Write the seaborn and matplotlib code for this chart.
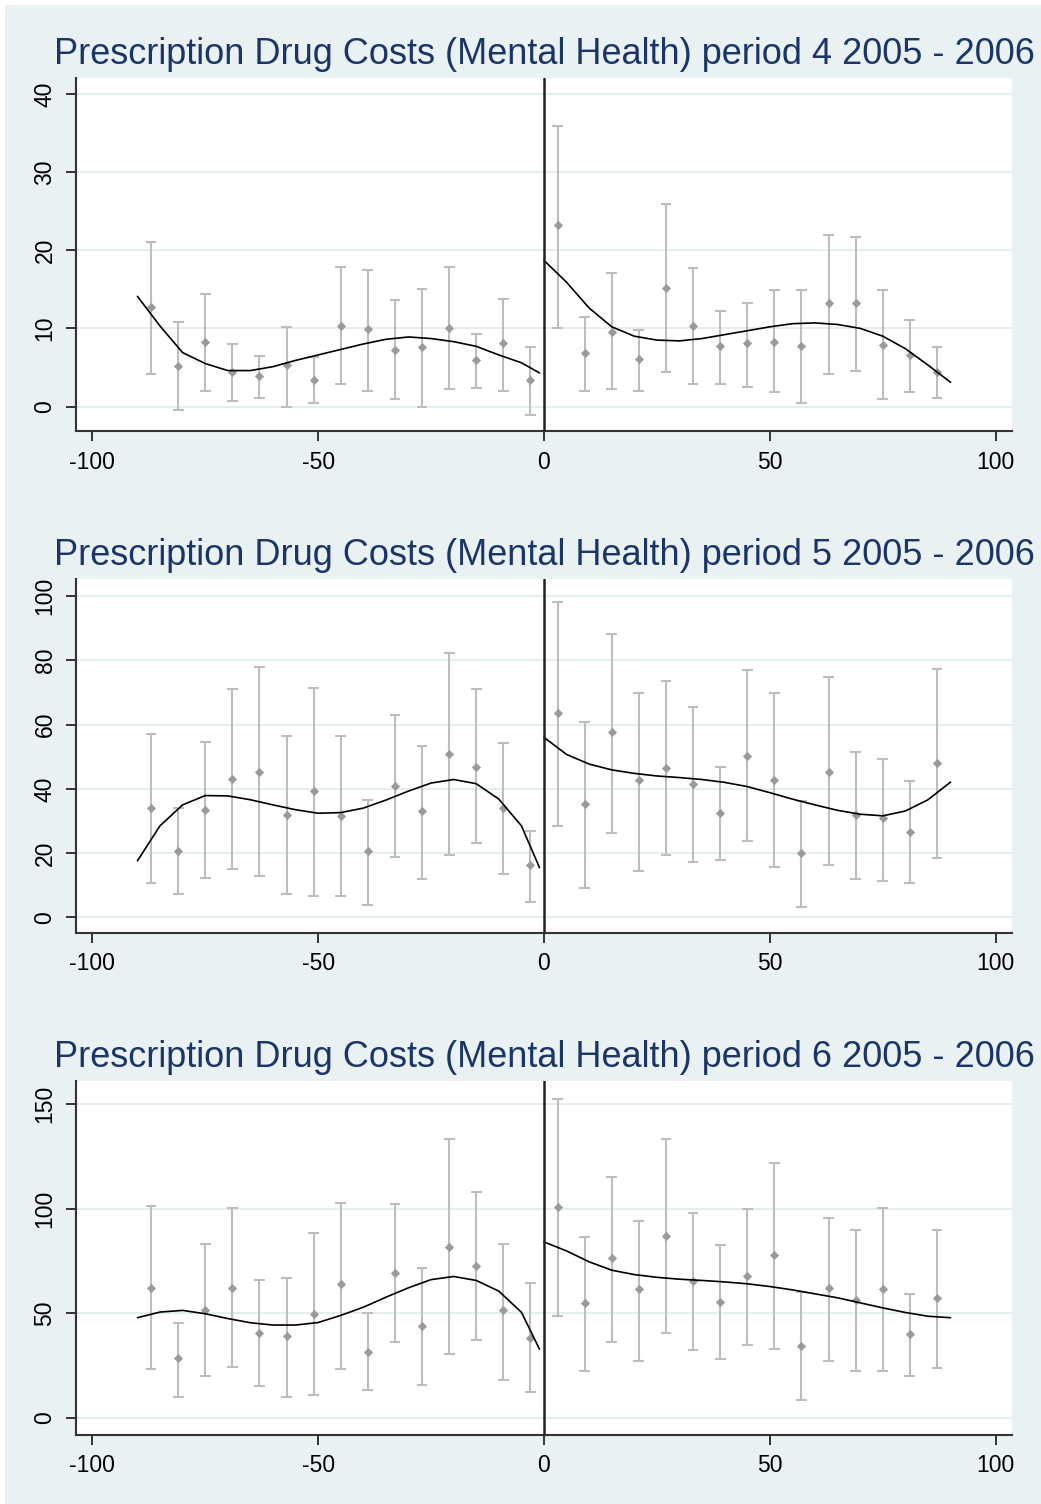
import numpy as np
import pandas as pd
import matplotlib
matplotlib.use("Agg")
import matplotlib.pyplot as plt
import seaborn as sns
from matplotlib.patches import Rectangle

# ---------------- data ----------------
bins = [-87, -81, -75, -69, -63, -57, -51, -45, -39, -33, -27, -21, -15, -9, -3,
        3, 9, 15, 21, 27, 33, 39, 45, 51, 57, 63, 69, 75, 81, 87]
curve_x_left = [-90, -85, -80, -75, -70, -65, -60, -55, -50, -45, -40, -35, -30,
                -25, -20, -15, -10, -5, -1]
curve_x_right = [0, 5, 10, 15, 20, 25, 30, 35, 40, 45, 50, 55, 60, 65, 70, 75,
                 80, 85, 90]

titles = ["Prescription Drug Costs (Mental Health) period 4 2005 - 2006",
          "Prescription Drug Costs (Mental Health) period 5 2005 - 2006",
          "Prescription Drug Costs (Mental Health) period 6 2005 - 2006"]

p4_mean = [12.7, 5.2, 8.3, 4.4, 3.9, 5.3, 3.4, 10.3, 9.9, 7.2, 7.6, 10.1, 5.9, 8.1, 3.4,
           23.2, 6.9, 9.6, 6.1, 15.2, 10.3, 7.7, 8.1, 8.3, 7.7, 13.2, 13.2, 7.9, 6.6, 4.4]
p4_lo = [4.1, -0.4, 2.0, 0.7, 1.1, 0.0, 0.5, 2.9, 2.0, 0.9, 0.0, 2.2, 2.4, 2.0, -1.1,
         10.0, 2.0, 2.2, 2.0, 4.4, 2.9, 2.9, 2.5, 1.8, 0.5, 4.2, 4.5, 0.9, 1.8, 1.1]
p4_hi = [21.1, 10.8, 14.4, 8.0, 6.5, 10.2, 6.3, 17.8, 17.5, 13.6, 15.1, 17.8, 9.3, 13.8, 7.6,
         35.9, 11.5, 17.1, 9.8, 25.9, 17.7, 12.2, 13.3, 14.9, 14.9, 22.0, 21.7, 14.9, 11.1, 7.6]
p4_fit_left = [14.1, 10.3, 6.9, 5.5, 4.6, 4.6, 5.1, 5.9, 6.6, 7.3, 8.0, 8.6, 8.9,
               8.7, 8.3, 7.7, 6.6, 5.6, 4.3]
p4_fit_right = [18.7, 15.9, 12.6, 10.2, 9.0, 8.5, 8.4, 8.7, 9.2, 9.7, 10.2, 10.6, 10.7,
                10.5, 10.0, 9.0, 7.4, 5.3, 3.1]

p5_mean = [34.1, 20.6, 33.5, 43.2, 45.3, 32.0, 39.4, 31.4, 20.6, 41.0, 33.0, 50.7, 46.9, 34.1, 16.4,
           63.6, 35.2, 57.7, 42.7, 46.5, 41.6, 32.5, 50.2, 42.7, 20.1, 45.3, 32.0, 30.9, 26.6, 48.0]
p5_lo = [10.8, 7.2, 12.4, 15.1, 13.0, 7.2, 6.5, 6.5, 3.8, 18.9, 11.8, 19.4, 23.1, 13.5, 4.9,
         28.5, 9.2, 26.3, 14.5, 19.4, 17.2, 17.8, 23.7, 15.7, 3.2, 16.2, 11.8, 11.3, 10.8, 18.4]
p5_hi = [57.0, 34.1, 54.7, 71.1, 77.9, 56.4, 71.5, 56.5, 36.5, 62.9, 53.2, 82.3, 71.1, 54.3, 26.9,
         98.2, 60.7, 88.1, 69.8, 73.7, 65.6, 46.7, 76.9, 69.8, 36.2, 74.7, 51.6, 49.4, 42.4, 77.3]
p5_fit_left = [17.6, 28.5, 35.0, 37.9, 37.8, 36.6, 35.0, 33.5, 32.4, 32.6, 34.0, 36.5, 39.3,
               41.8, 42.9, 41.6, 36.8, 28.5, 15.5]
p5_fit_right = [56.0, 50.7, 47.7, 45.9, 44.8, 44.0, 43.5, 42.9, 42.0, 40.7, 38.8, 36.8, 35.0,
                33.3, 32.1, 31.6, 33.1, 36.6, 42.1]

p6_mean = [62.2, 28.5, 51.4, 62.2, 40.7, 39.1, 49.8, 63.8, 31.6, 69.5, 43.9, 81.9, 72.8, 51.4, 38.3,
           100.8, 54.7, 76.3, 61.4, 86.8, 65.5, 55.5, 67.9, 77.9, 34.2, 62.2, 56.4, 61.4, 39.9, 57.2]
p6_lo = [23.2, 10.0, 19.9, 24.2, 15.1, 10.0, 10.8, 23.2, 13.4, 36.4, 15.9, 30.7, 37.4, 18.3, 12.4,
         48.8, 22.3, 36.4, 27.3, 40.4, 32.3, 28.1, 34.7, 33.1, 8.4, 27.3, 22.4, 22.4, 19.9, 24.0]
p6_hi = [101.3, 45.3, 83.1, 100.5, 66.0, 66.8, 88.2, 102.9, 50.2, 102.1, 71.7, 133.4, 108.0, 83.1, 64.4,
         152.3, 86.6, 115.3, 94.0, 133.2, 97.9, 82.5, 99.7, 121.9, 60.4, 95.7, 89.8, 100.5, 59.3, 89.8]
p6_fit_left = [47.9, 50.6, 51.4, 49.8, 47.5, 45.5, 44.4, 44.4, 45.6, 49.0, 52.9, 57.7, 62.2,
               66.1, 67.6, 65.7, 60.6, 50.5, 32.9]
p6_fit_right = [84.1, 79.8, 74.6, 70.6, 68.5, 67.2, 66.3, 65.7, 65.0, 64.1, 62.8, 61.2, 59.3,
                57.4, 55.0, 52.6, 50.4, 48.6, 47.9]

x_ticks = [-100, -50, 0, 50, 100]
y_ticks = [[0, 10, 20, 30, 40], [0, 20, 40, 60, 80, 100], [0, 50, 100, 150]]

# ---------------- style ----------------
sns.set_theme(style="white")
plt.rcParams['font.family'] = ['Liberation Sans', 'DejaVu Sans']

BG = "#e9f1f3"
GRID = "#e2ecef"
TITLE_C = "#1b3566"
BAR_C = "#bdbdbd"
PT_C = "#9a9a9a"

W, H = 1041, 1504
fig = plt.figure(figsize=(W / 100, H / 100), dpi=100, facecolor="white")
fig.patches.append(Rectangle((5 / W, 0), 1 - 5 / W, 1 - 5 / H, transform=fig.transFigure,
                             facecolor=BG, edgecolor="none", zorder=-10))

panels = [
    (p4_mean, p4_lo, p4_hi, p4_fit_left, p4_fit_right, (-3.2, 42.05), 78.0, 64.0),
    (p5_mean, p5_lo, p5_hi, p5_fit_left, p5_fit_right, (-4.8, 105.2), 579.3, 565.3),
    (p6_mean, p6_lo, p6_hi, p6_fit_left, p6_fit_right, (-7.9, 161.0), 1081.0, 1067.0),
]

left_px, right_px = 76, 1012
plot_h = 353.5

for i, (mean, lo, hi, fl, fr, ylim, top_px, title_base) in enumerate(panels):
    ax = fig.add_axes([left_px / W, 1 - (top_px + plot_h) / H,
                       (right_px - left_px) / W, plot_h / H])
    ax.set_facecolor("white")

    df = pd.DataFrame({"x": bins, "mean": mean, "lo": lo, "hi": hi})
    fit = pd.DataFrame({"x": curve_x_left + curve_x_right,
                        "y": fl + fr,
                        "side": ["L"] * len(curve_x_left) + ["R"] * len(curve_x_right)})

    ax.vlines(df["x"], df["lo"], df["hi"], color=BAR_C, lw=1.5, zorder=2)
    ax.hlines(df["lo"], df["x"] - 1.2, df["x"] + 1.2, color=BAR_C, lw=1.5, zorder=2)
    ax.hlines(df["hi"], df["x"] - 1.2, df["x"] + 1.2, color=BAR_C, lw=1.5, zorder=2)
    sns.scatterplot(data=df, x="x", y="mean", ax=ax, color=PT_C, marker="D",
                    s=22, edgecolor=PT_C, linewidth=0, zorder=3)
    sns.lineplot(data=fit, x="x", y="y", units="side", estimator=None, ax=ax,
                 color="black", lw=1.2, zorder=4, sort=False)

    ax.axvline(0, color="#222222", lw=1.8, zorder=5)

    ax.set_xlim(-103.6, 103.6)
    ax.set_ylim(*ylim)
    ax.set_xticks(x_ticks)
    ax.set_yticks(y_ticks[i])
    ax.set_xticklabels([str(t) for t in x_ticks])
    ax.set_yticklabels([str(t) for t in y_ticks[i]], rotation=90, va="center")
    ax.set_xlabel("")
    ax.set_ylabel("")
    for t in y_ticks[i]:
        ax.axhline(t, color=GRID, lw=1.3, zorder=1)

    for s in ["top", "right"]:
        ax.spines[s].set_visible(False)
    for s in ["left", "bottom"]:
        ax.spines[s].set_color("#333333")
        ax.spines[s].set_linewidth(1.5)
    ax.tick_params(axis="both", which="major", direction="out", length=7, width=1.4,
                   color="#333333", labelsize=16.5, labelcolor="black", pad=7,
                   bottom=True, left=True)

    fig.text(544 / W, 1 - title_base / H, titles[i], ha="center", va="baseline",
             fontsize=26, color=TITLE_C)

fig.savefig("out.png", dpi=100, facecolor=fig.get_facecolor())
